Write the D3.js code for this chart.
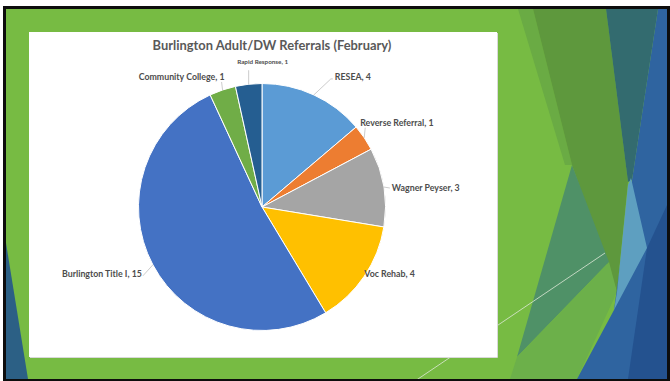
<!DOCTYPE html>
<html>
<head>
<meta charset="utf-8">
<script src="https://cdn.jsdelivr.net/npm/d3@7"></script>
<style>
  body { margin: 0; background: #fff; }
  svg { display: block; }
</style>
</head>
<body>
<div id="chart-area"></div>
<script>
// chart data
var title = "Burlington Adult/DW Referrals (February)";
var categories = ["RESEA", "Reverse Referral", "Wagner Peyser", "Voc Rehab",
                  "Burlington Title I", "Community College", "Rapid Response"];
var values = [4, 1, 3, 4, 15, 1, 1];

var width = 670, height = 381;

var color = d3.scaleOrdinal()
    .domain(categories)
    .range(["#5b9bd5", "#ed7d31", "#a5a5a5", "#ffc000", "#4472c4", "#70ad47", "#255e91"]);

// where each label sits, relative to the point on the rim at the slice middle
var labelLayout = {
    "RESEA":              {dx: 21,  dy: -15, anchor: "start",  lead: [17, -16], size: 8.8},
    "Reverse Referral":   {dx: -4,  dy: -12, anchor: "start",  lead: [1, -10],  size: 8.8},
    "Wagner Peyser":      {dx: 8,   dy: 4,   anchor: "start",  lead: [6, 1],    size: 8.8},
    "Voc Rehab":          {dx: 0,   dy: 1,   anchor: "start",  lead: null,     size: 8.8},
    "Burlington Title I": {dx: -11, dy: 12,  anchor: "end",    lead: [-10, 11], size: 8.8},
    "Community College":  {dx: 2,   dy: -10, anchor: "end",    lead: [-1, -8],  size: 8.8},
    "Rapid Response":     {dx: 14,  dy: -20, anchor: "middle", lead: [0, -14],  size: 6.3}
};

var svg = d3.select("#chart-area").append("svg")
    .attr("width", width)
    .attr("height", height);

// slide frame
svg.append("rect").attr("width", width).attr("height", height).attr("fill", "#fff");
svg.append("rect").attr("x", 3).attr("y", 6).attr("width", 667).attr("height", 375).attr("fill", "#0d0d0d");

svg.append("clipPath").attr("id", "slide")
  .append("rect").attr("x", 6).attr("y", 9).attr("width", 661).attr("height", 370);

var bg = svg.append("g").attr("clip-path", "url(#slide)");
bg.append("rect").attr("x", 6).attr("y", 9).attr("width", 661).attr("height", 370).attr("fill", "#77bb43");

// facet theme decoration
var facets = [
    {fill: "#6aab44", pts: [[518, 9], [533, 9], [572, 165], [565, 165]]},
    {fill: "#5e983d", pts: [[533, 9], [606, 9], [628, 182], [617, 292], [572, 165]]},
    {fill: "#4f9167", pts: [[572, 165], [609, 262], [517, 357]]},
    {fill: "#6cb04a", pts: [[517, 357], [609, 262], [617, 292], [577, 379], [510, 379]]},
    {fill: "#336b6f", pts: [[606, 9], [658, 9], [632, 180], [628, 182]]},
    {fill: "#2f64a0", pts: [[658, 9], [667, 9], [667, 379], [577, 379], [614, 310], [632, 180]]},
    {fill: "#5e9fc0", pts: [[631, 178], [647, 248], [614, 310], [617, 292], [628, 185]]},
    {fill: "#24528f", pts: [[667, 205], [667, 379], [628, 379], [647, 248]]},
    {fill: "#2c6085", pts: [[6, 243], [28, 379], [6, 379]]}
];
bg.selectAll("polygon.facet")
    .data(facets)
    .enter().append("polygon")
    .attr("class", "facet")
    .attr("points", d => d.pts.map(p => p.join(",")).join(" "))
    .attr("fill", d => d.fill);

bg.append("line")
    .attr("x1", 415).attr("y1", 381).attr("x2", 605).attr("y2", 253)
    .attr("stroke", "#dfe9d8").attr("stroke-width", 1).attr("opacity", 0.8);

// chart box
svg.append("rect")
    .attr("x", 29).attr("y", 32).attr("width", 468).attr("height", 325)
    .attr("fill", "#fff");
svg.append("path")
    .attr("d", "M497.5,33 V357.5 H30")
    .attr("fill", "none").attr("stroke", "#d9d9d9").attr("stroke-width", 1);

svg.append("text")
    .attr("x", 272)
    .attr("y", 50)
    .attr("text-anchor", "middle")
    .attr("font-family", "Lato, 'Open Sans', sans-serif")
    .attr("font-weight", 700)
    .attr("font-size", "12.9px")
    .attr("fill", "#595959")
    .text(title);

// pie
var cx = 262, cy = 207, radius = 123.5;

var pie = d3.pie().sort(null).value(d => d.value);
var arc = d3.arc().innerRadius(0).outerRadius(radius);
var slices = pie(categories.map((c, i) => ({name: c, value: values[i]})));

var g = svg.append("g").attr("transform", "translate(" + cx + "," + cy + ")");

g.selectAll("path.slice")
    .data(slices)
    .enter().append("path")
    .attr("class", "slice")
    .attr("d", arc)
    .attr("fill", d => color(d.data.name))
    .attr("stroke", "#fff")
    .attr("stroke-width", 1);

function rim(d) {
    var a = (d.startAngle + d.endAngle) / 2;
    return [radius * Math.sin(a), -radius * Math.cos(a)];
}

slices.forEach(d => {
    var lay = labelLayout[d.data.name];
    var p = rim(d);
    if (lay.lead) {
        var pts = [p, [p[0] + lay.lead[0], p[1] + lay.lead[1]]];
        if (d.data.name === "RESEA") pts.push([p[0] + lay.lead[0] + 2, p[1] + lay.lead[1]]);
        g.append("polyline")
            .attr("points", pts.map(q => q.join(",")).join(" "))
            .attr("fill", "none")
            .attr("stroke", "#bfbfbf")
            .attr("stroke-width", 0.8);
    }
    g.append("text")
        .attr("x", p[0] + lay.dx)
        .attr("y", p[1] + lay.dy)
        .attr("text-anchor", lay.anchor)
        .attr("font-family", "Lato, 'Open Sans', sans-serif")
        .attr("font-weight", 700)
        .attr("font-size", lay.size + "px")
        .attr("fill", "#4d4d4d")
        .text(d.data.name + ", " + d.data.value);
});
</script>
</body>
</html>
